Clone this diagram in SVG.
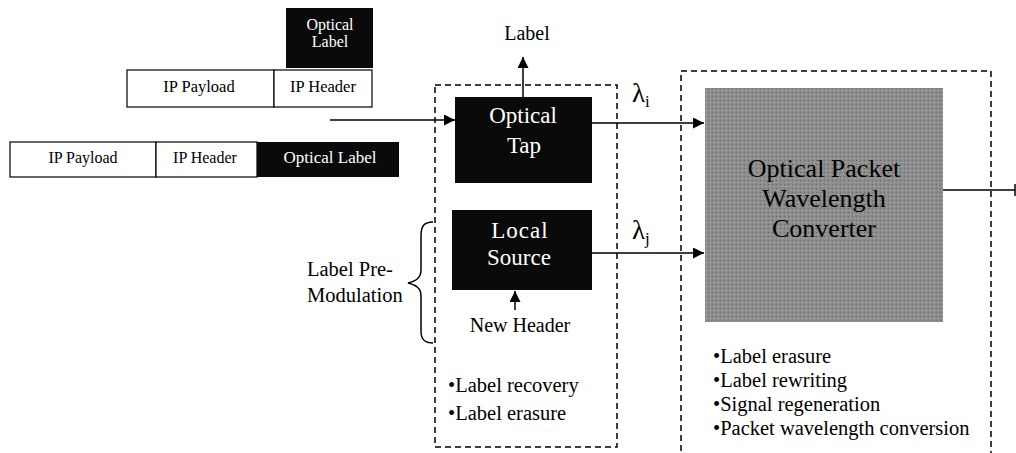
<svg xmlns="http://www.w3.org/2000/svg" width="1016" height="453" viewBox="0 0 1016 453" font-family="'Liberation Serif', 'Times New Roman', Times, 'DejaVu Serif', serif">
<defs>
<style>
text{font-family:'Liberation Serif','Times New Roman',Times,'DejaVu Serif',serif;fill:#000}
.w{fill:#fff}
.dash{fill:none;stroke:#000;stroke-width:1.5;stroke-dasharray:6 4}
.ln{fill:none;stroke:#000;stroke-width:1.5}
.cell{fill:#fff;stroke:#000;stroke-width:1.2}
.dark{fill:#0a0a0a}
</style>
<marker id="ah" viewBox="0 0 10 10" refX="10" refY="5" markerWidth="11" markerHeight="11" markerUnits="userSpaceOnUse" orient="auto">
<path d="M0,0 L10,5 L0,10 z" fill="#000"/>
</marker>
<pattern id="tex" width="4" height="4" patternUnits="userSpaceOnUse">
<rect width="4" height="4" fill="#8c8c8c"/>
<rect width="1" height="1" fill="#6a6a6a"/>
<rect x="2" y="2" width="1" height="1" fill="#b0b0b0"/>
</pattern>
</defs>

<g id="packet-top">
<rect class="dark" x="286" y="8" width="87" height="60"/>
<text class="w" x="330" y="30" font-size="16" text-anchor="middle">Optical</text>
<text class="w" x="330" y="47" font-size="16" text-anchor="middle">Label</text>
<rect class="cell" x="127" y="70" width="147" height="37"/>
<rect class="cell" x="274" y="70" width="98" height="37"/>
<text x="199" y="92" font-size="16.5" text-anchor="middle">IP Payload</text>
<text x="323" y="92" font-size="16.5" text-anchor="middle">IP Header</text>
</g>

<g id="packet-bottom">
<rect class="cell" x="10" y="142" width="146" height="35"/>
<rect class="cell" x="156" y="142" width="101" height="35"/>
<rect class="dark" x="257" y="142" width="142" height="35"/>
<text x="83" y="163" font-size="16" text-anchor="middle">IP Payload</text>
<text x="205" y="163" font-size="16" text-anchor="middle">IP Header</text>
<text class="w" x="330" y="163" font-size="17" text-anchor="middle">Optical Label</text>
</g>

<g id="label-out">
<text x="527" y="40" font-size="20" text-anchor="middle">Label</text>
</g>

<g id="left-module">
<rect class="dash" x="435" y="85" width="182" height="362"/>
<text x="448" y="392" font-size="20.5">•Label recovery</text>
<text x="448" y="420" font-size="20.5">•Label erasure</text>
</g>

<g id="optical-tap">
<rect class="dark" x="455" y="97" width="137" height="86"/>
<text class="w" x="523" y="123" font-size="23" text-anchor="middle">Optical</text>
<text class="w" x="524" y="153" font-size="23" text-anchor="middle">Tap</text>
</g>

<g id="local-source">
<rect class="dark" x="452" y="210" width="140" height="80"/>
<text class="w" x="520" y="238" font-size="23" text-anchor="middle" letter-spacing="1">Local</text>
<text class="w" x="519" y="265" font-size="23" text-anchor="middle">Source</text>
</g>

<g id="new-header">
<text x="520" y="332" font-size="20" text-anchor="middle">New Header</text>
</g>

<g id="premod">
<text x="307" y="276" font-size="20.5">Label Pre-</text>
<text x="307" y="302" font-size="20.5">Modulation</text>
<path class="ln" d="M433,222 C424,222 421,226 421,236 L421,270 C421,278 416,281 408,283 C416,285 421,288 421,296 L421,331 C421,339 424,343 433,343"/>
</g>

<g id="right-module">
<rect class="dash" x="681" y="71" width="310" height="390"/>
<text x="713" y="363" font-size="20.5">•Label erasure</text>
<text x="713" y="387" font-size="20.5">•Label rewriting</text>
<text x="713" y="411" font-size="20.5">•Signal regeneration</text>
<text x="713" y="435" font-size="20.5">•Packet wavelength conversion</text>
</g>

<g id="converter">
<rect x="705" y="88" width="238" height="234" fill="url(#tex)"/>
<text x="824" y="177" font-size="26" text-anchor="middle" fill="#1a1a1a">Optical Packet</text>
<text x="824" y="207" font-size="26" text-anchor="middle" fill="#1a1a1a">Wavelength</text>
<text x="824" y="237" font-size="26" text-anchor="middle" fill="#1a1a1a">Converter</text>
</g>

<g id="lambdas">
<text x="632" y="102" font-size="27">λ<tspan font-size="17" dy="5">i</tspan></text>
<text x="632" y="239" font-size="27">λ<tspan font-size="17" dy="5">j</tspan></text>
</g>

<g id="connectors">
<line class="ln" x1="330" y1="120" x2="455" y2="120" marker-end="url(#ah)"/>
<line class="ln" x1="523" y1="97" x2="523" y2="57" marker-end="url(#ah)"/>
<line class="ln" x1="592" y1="123" x2="704" y2="123" marker-end="url(#ah)"/>
<line class="ln" x1="592" y1="253" x2="704" y2="253" marker-end="url(#ah)"/>
<line class="ln" x1="515" y1="310" x2="515" y2="291" marker-end="url(#ah)"/>
<line class="ln" x1="943" y1="190" x2="1015" y2="190"/>
<line class="ln" x1="1015" y1="184" x2="1015" y2="196"/>
</g>
</svg>
